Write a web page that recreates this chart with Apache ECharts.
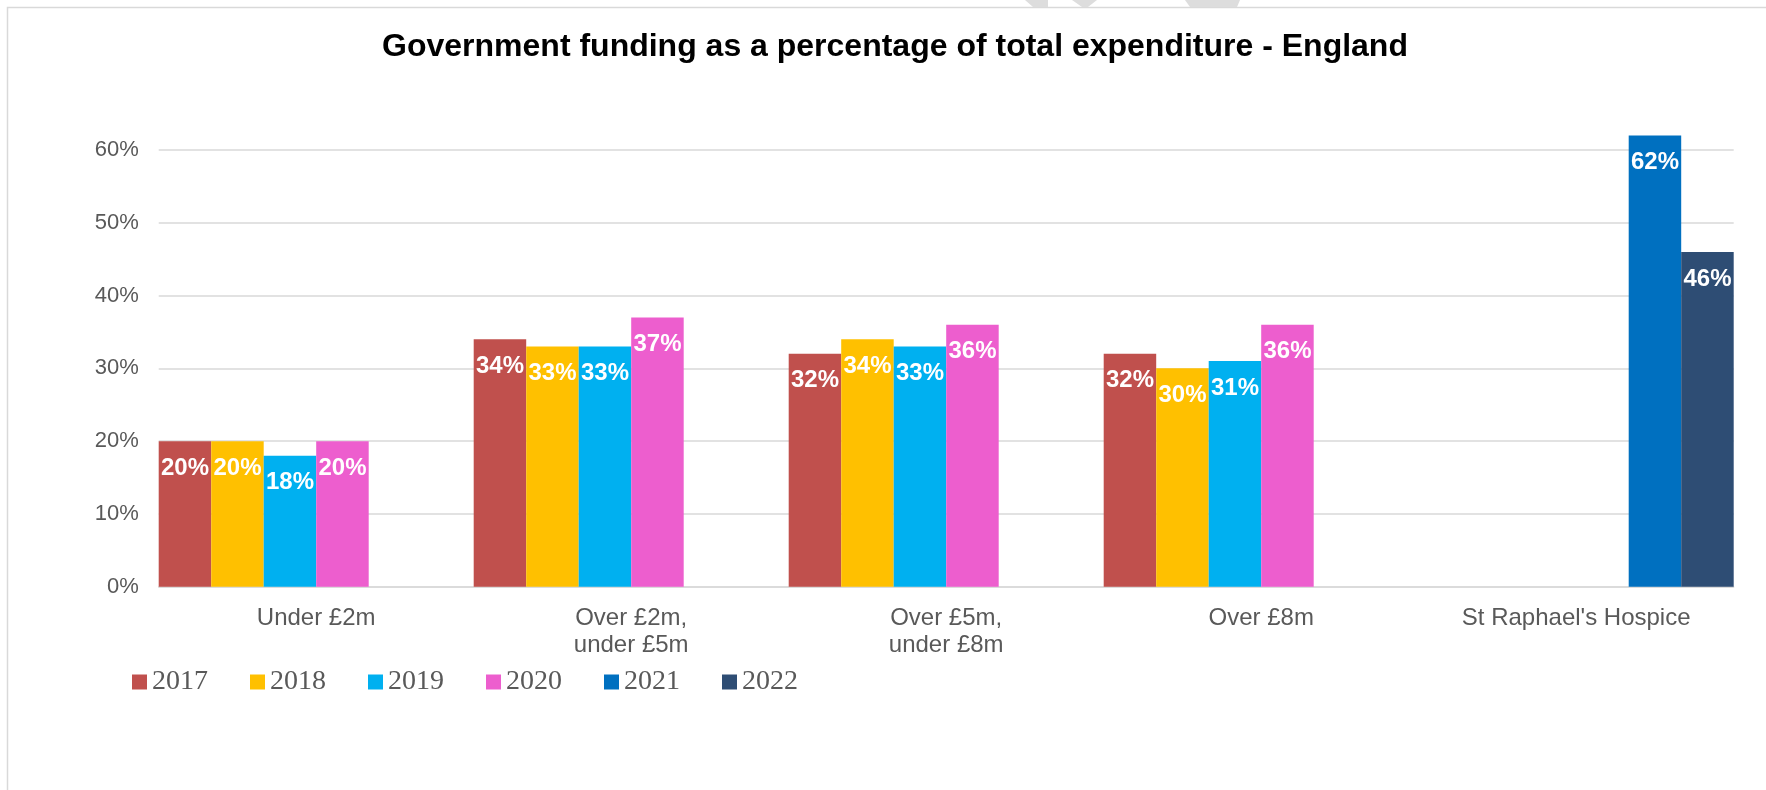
<!DOCTYPE html>
<html>
<head>
<meta charset="utf-8">
<title>Government funding as a percentage of total expenditure - England</title>
<script src="https://cdn.jsdelivr.net/npm/echarts@6/dist/echarts.min.js"></script>
<style>
  html, body { margin: 0; padding: 0; background: #ffffff; }
  #chart { width: 1766px; height: 790px; }
</style>
</head>
<body>
<div id="chart"></div>
<script>
// Hospice size bands plus St Raphael's own figures
const categories = ['Under £2m', 'Over £2m,\nunder £5m', 'Over £5m,\nunder £8m', 'Over £8m', "St Raphael's Hospice"];
const years = ['2017', '2018', '2019', '2020', '2021', '2022'];

// Government funding share of total expenditure (%), one list per year
const values2017 = [20, 34, 32, 32, null];
const values2018 = [20, 33, 34, 30, null];
const values2019 = [18, 33, 33, 31, null];
const values2020 = [20, 37, 36, 36, null];
const values2021 = [null, null, null, null, 62];
const values2022 = [null, null, null, null, 46];

const yTicks = [0, 10, 20, 30, 40, 50, 60];

const seriesValues = [values2017, values2018, values2019, values2020, values2021, values2022];
const seriesColors = ['#C0504D', '#FFC000', '#00B0F0', '#ED5ECE', '#0070C0', '#2E4D74'];

const FONT = '"Liberation Sans", Arial, sans-serif';
const GREY = '#595959';
const LINE = '#D9D9D9';

const chart = echarts.init(document.getElementById('chart'), null, { renderer: 'canvas' });

chart.setOption({
  animation: false,
  backgroundColor: '#ffffff',
  title: {
    text: 'Government funding as a percentage of total expenditure - England',
    left: 895,
    top: 31,
    padding: 0,
    textAlign: 'center',
    textStyle: { fontFamily: FONT, fontSize: 32, fontWeight: 'bold', color: '#000000' }
  },
  graphic: [
    {
      type: 'rect', silent: true, z: -10,
      shape: { x: 7.5, y: 7.5, width: 1900, height: 1000 },
      style: { fill: 'none', stroke: LINE, lineWidth: 1.5 }
    },
    { type: 'polygon', silent: true, shape: { points: [[1025, 0], [1048, 0], [1048, 7], [1033, 7]] }, style: { fill: '#DDDDDD' } },
    { type: 'polygon', silent: true, shape: { points: [[1072, 0], [1097, 0], [1088, 7], [1082, 7]] }, style: { fill: '#DDDDDD' } },
    { type: 'polygon', silent: true, shape: { points: [[1185, 0], [1240, 0], [1237, 7], [1190, 7]] }, style: { fill: '#DDDDDD' } }
  ],
  legend: {
    data: years,
    left: 132,
    top: 668,
    padding: 0,
    itemWidth: 15,
    itemHeight: 15,
    itemGap: 42,
    icon: 'rect',
    textStyle: { fontFamily: '"Liberation Serif", Cambria, serif', fontSize: 28, color: GREY }
  },
  grid: { left: 158.7, right: 32.3, top: 150, bottom: 203.3, containLabel: false },
  xAxis: {
    type: 'category',
    data: categories,
    boundaryGap: true,
    axisLine: { show: true, lineStyle: { color: LINE, width: 1.5 } },
    axisTick: { show: false },
    splitLine: { show: false },
    axisLabel: {
      interval: 0,
      margin: 18,
      fontFamily: FONT,
      fontSize: 24,
      lineHeight: 27,
      color: GREY
    }
  },
  yAxis: {
    type: 'value',
    min: yTicks[0],
    max: yTicks[yTicks.length - 1],
    interval: yTicks[1] - yTicks[0],
    axisLine: { show: false },
    axisTick: { show: false },
    splitLine: { show: true, lineStyle: { color: LINE, width: 1.5 } },
    axisLabel: {
      margin: 20,
      fontFamily: FONT,
      fontSize: 22,
      color: GREY,
      formatter: '{value}%'
    }
  },
  series: years.map((year, i) => ({
    name: year,
    type: 'bar',
    data: seriesValues[i],
    clip: false,
    barGap: '0%',
    barCategoryGap: '0%',
    itemStyle: { color: seriesColors[i] },
    label: {
      show: true,
      position: 'insideTop',
      distance: 15,
      formatter: '{c}%',
      fontFamily: FONT,
      fontSize: 24,
      fontWeight: 'bold',
      color: '#ffffff'
    }
  }))
});
</script>
</body>
</html>
